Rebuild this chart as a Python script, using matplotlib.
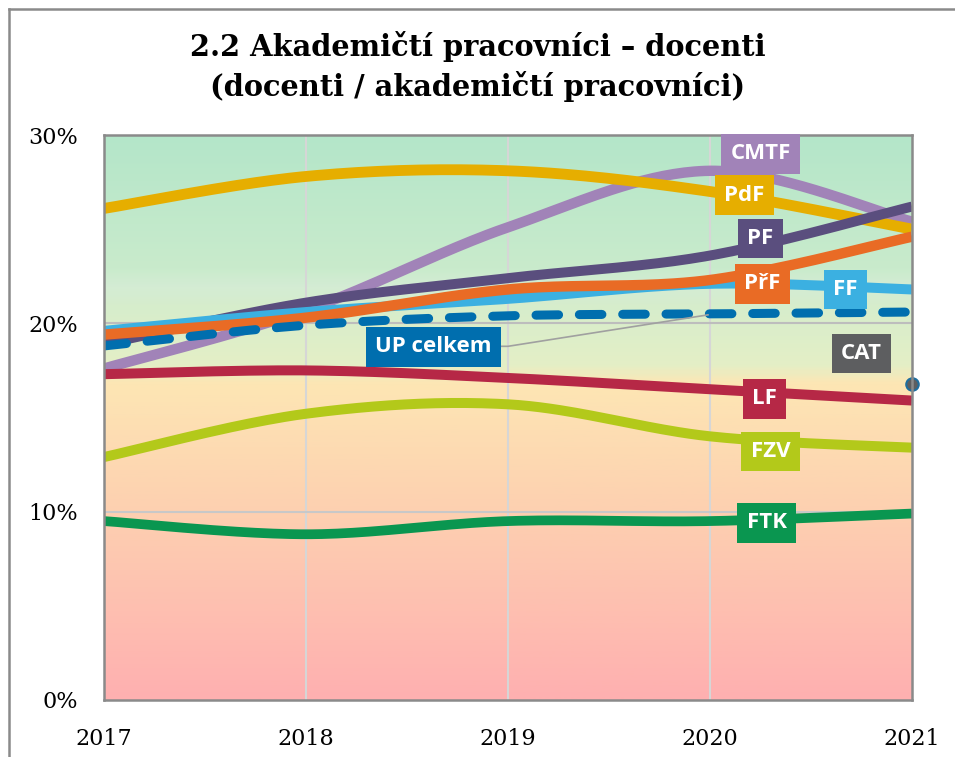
import numpy as np
import matplotlib
matplotlib.use('Agg')
import matplotlib.pyplot as plt
from matplotlib.colors import LinearSegmentedColormap
from matplotlib.lines import Line2D

years = [2017, 2018, 2019, 2020, 2021]

# share of docents among academic staff (%)
cmtf = [17.6, 20.7, 25.1, 28.1, 25.4]
pdf = [26.1, 27.8, 28.1, 27.0, 25.0]
pf = [18.9, 21.1, 22.4, 23.6, 26.2]
ff = [19.6, 20.6, 21.3, 22.1, 21.8]
prf = [19.4, 20.3, 21.8, 22.3, 24.6]
up = [18.8, 19.9, 20.4, 20.5, 20.6]
lf = [17.3, 17.5, 17.1, 16.5, 15.9]
fzv = [12.9, 15.2, 15.7, 14.0, 13.4]
ftk = [9.5, 8.8, 9.5, 9.5, 9.9]
cat_year = 2021
cat_value = 16.8

y_ticks = [0, 10, 20, 30]
y_tick_labels = ['0%', '10%', '20%', '30%']


def smooth(xs, ys, n=40):
    # Excel-like smoothed line (bezier through the points)
    pts = np.column_stack([xs, ys]).astype(float)
    out = []
    for i in range(len(pts) - 1):
        p0 = pts[i - 1] if i > 0 else pts[i]
        p1 = pts[i]
        p2 = pts[i + 1]
        p3 = pts[i + 2] if i + 2 < len(pts) else pts[i + 1]
        c1 = p1 + (p2 - p0) / 6
        c2 = p2 - (p3 - p1) / 6
        t = np.linspace(0, 1, n)[:, None]
        seg = (1 - t)**3 * p1 + 3 * (1 - t)**2 * t * c1 + 3 * (1 - t) * t**2 * c2 + t**3 * p2
        out.append(seg if i == 0 else seg[1:])
    s = np.vstack(out)
    return s[:, 0], s[:, 1]


fig = plt.figure(figsize=(9.55, 7.57), dpi=100)
ax = fig.add_axes([104 / 955, 1 - 700 / 757, 808 / 955, 565 / 757])
ax.set_xlim(2017, 2021)
ax.set_ylim(0, 30)

# background gradient: pink at the bottom, yellow, then green on top
stops = [(0.0, '#ffb0b0'), (10 / 30, '#fdd0b0'), (16.8 / 30, '#fde6b4'),
         (17.8 / 30, '#e4efc6'), (21 / 30, '#d6edcc'), (22 / 30, '#d4ecd4'),
         (23 / 30, '#c9ebcc'), (1.0, '#b4e6c9')]
cmap = LinearSegmentedColormap.from_list('bg', stops)
grad = np.linspace(0, 1, 300)[:, None]
ax.imshow(grad, extent=[2017, 2021, 0, 30], origin='lower', aspect='auto',
          cmap=cmap, zorder=0)

for yr in years[1:-1]:
    ax.axvline(yr, color='#d6d6d6', lw=1.5, zorder=1)
ax.axhline(10, color='#c8c8c8', lw=1.5, zorder=1)
ax.axhline(20, color='#bdbdbd', lw=1.5, zorder=1)

series = [
    ('CMTF', cmtf, '#a183b8', 7.5),
    ('PdF', pdf, '#e6ae00', 7.8),
    ('PF', pf, '#5a4e7e', 7.2),
    ('FF', ff, '#3bb0e1', 7.2),
    ('PřF', prf, '#e96b25', 7.5),
    ('LF', lf, '#b62846', 7.2),
    ('FZV', fzv, '#b3c91a', 7.2),
    ('FTK', ftk, '#0a9650', 7.0),
]
for name, vals, col, lw in series:
    sx, sy = smooth(years, vals)
    ax.plot(sx, sy, color=col, lw=lw, solid_capstyle='butt', zorder=3)

sx, sy = smooth(years, up)
ax.plot(sx, sy, color='#006eae', lw=6.5, dashes=(2.5, 2.3),
        dash_capstyle='round', zorder=4)

ax.plot([cat_year], [cat_value], 'o', ms=9, mfc='#5d5e60', mec='#1f6e9e',
        mew=1.5, zorder=6, clip_on=False)

# leader line for UP celkem
ax.add_line(Line2D([2018.93, 2019.0, 2019.99], [18.78, 18.78, 20.45],
                   color='#a0a0a0', lw=1.2, zorder=5))

labels = [
    ('CMTF', 2020.25, 29.0, '#a183b8'),
    ('PdF', 2020.17, 26.8, '#e6ae00'),
    ('PF', 2020.25, 24.5, '#5a4e7e'),
    ('PřF', 2020.26, 22.1, '#e96b25'),
    ('FF', 2020.67, 21.8, '#3bb0e1'),
    ('UP celkem', 2018.63, 18.75, '#006eae'),
    ('CAT', 2020.75, 18.4, '#5d5e60'),
    ('LF', 2020.27, 16.0, '#b62846'),
    ('FZV', 2020.30, 13.2, '#b3c91a'),
    ('FTK', 2020.28, 9.4, '#0a9650'),
]
for txt, lx, ly, col in labels:
    ax.text(lx, ly, txt, ha='center', va='center', color='white',
            fontsize=16, fontweight='bold', family='Open Sans', zorder=10,
            bbox=dict(boxstyle='square,pad=0.42', fc=col, ec='none'))

ax.set_xticks(years)
ax.set_xticklabels([str(y) for y in years], family='DejaVu Serif', fontsize=16)
ax.set_yticks(y_ticks)
ax.set_yticklabels(y_tick_labels, family='DejaVu Serif', fontsize=16)
ax.tick_params(length=0)
ax.tick_params(axis='y', pad=19)
ax.tick_params(axis='x', pad=20)
for sp in ax.spines.values():
    sp.set_color('#8a8a8a')
    sp.set_linewidth(1.8)
    sp.set_zorder(8)

fig.text(0.5, 1 - 47 / 757, '2.2 Akademičtí pracovníci – docenti',
         ha='center', va='center', fontsize=20.8, fontweight='bold',
         family='DejaVu Serif')
fig.text(0.5, 1 - 86 / 757, '(docenti / akademičtí pracovníci)',
         ha='center', va='center', fontsize=20.8, fontweight='bold',
         family='DejaVu Serif')

# outer chart frame
fig.add_artist(Line2D([9 / 955, 9 / 955], [0, 1 - 9 / 757], color='#8a8a8a',
                      lw=1.8, transform=fig.transFigure))
fig.add_artist(Line2D([9 / 955, 1], [1 - 9 / 757, 1 - 9 / 757], color='#8a8a8a',
                      lw=1.8, transform=fig.transFigure))

fig.savefig('out.png', dpi=100)
